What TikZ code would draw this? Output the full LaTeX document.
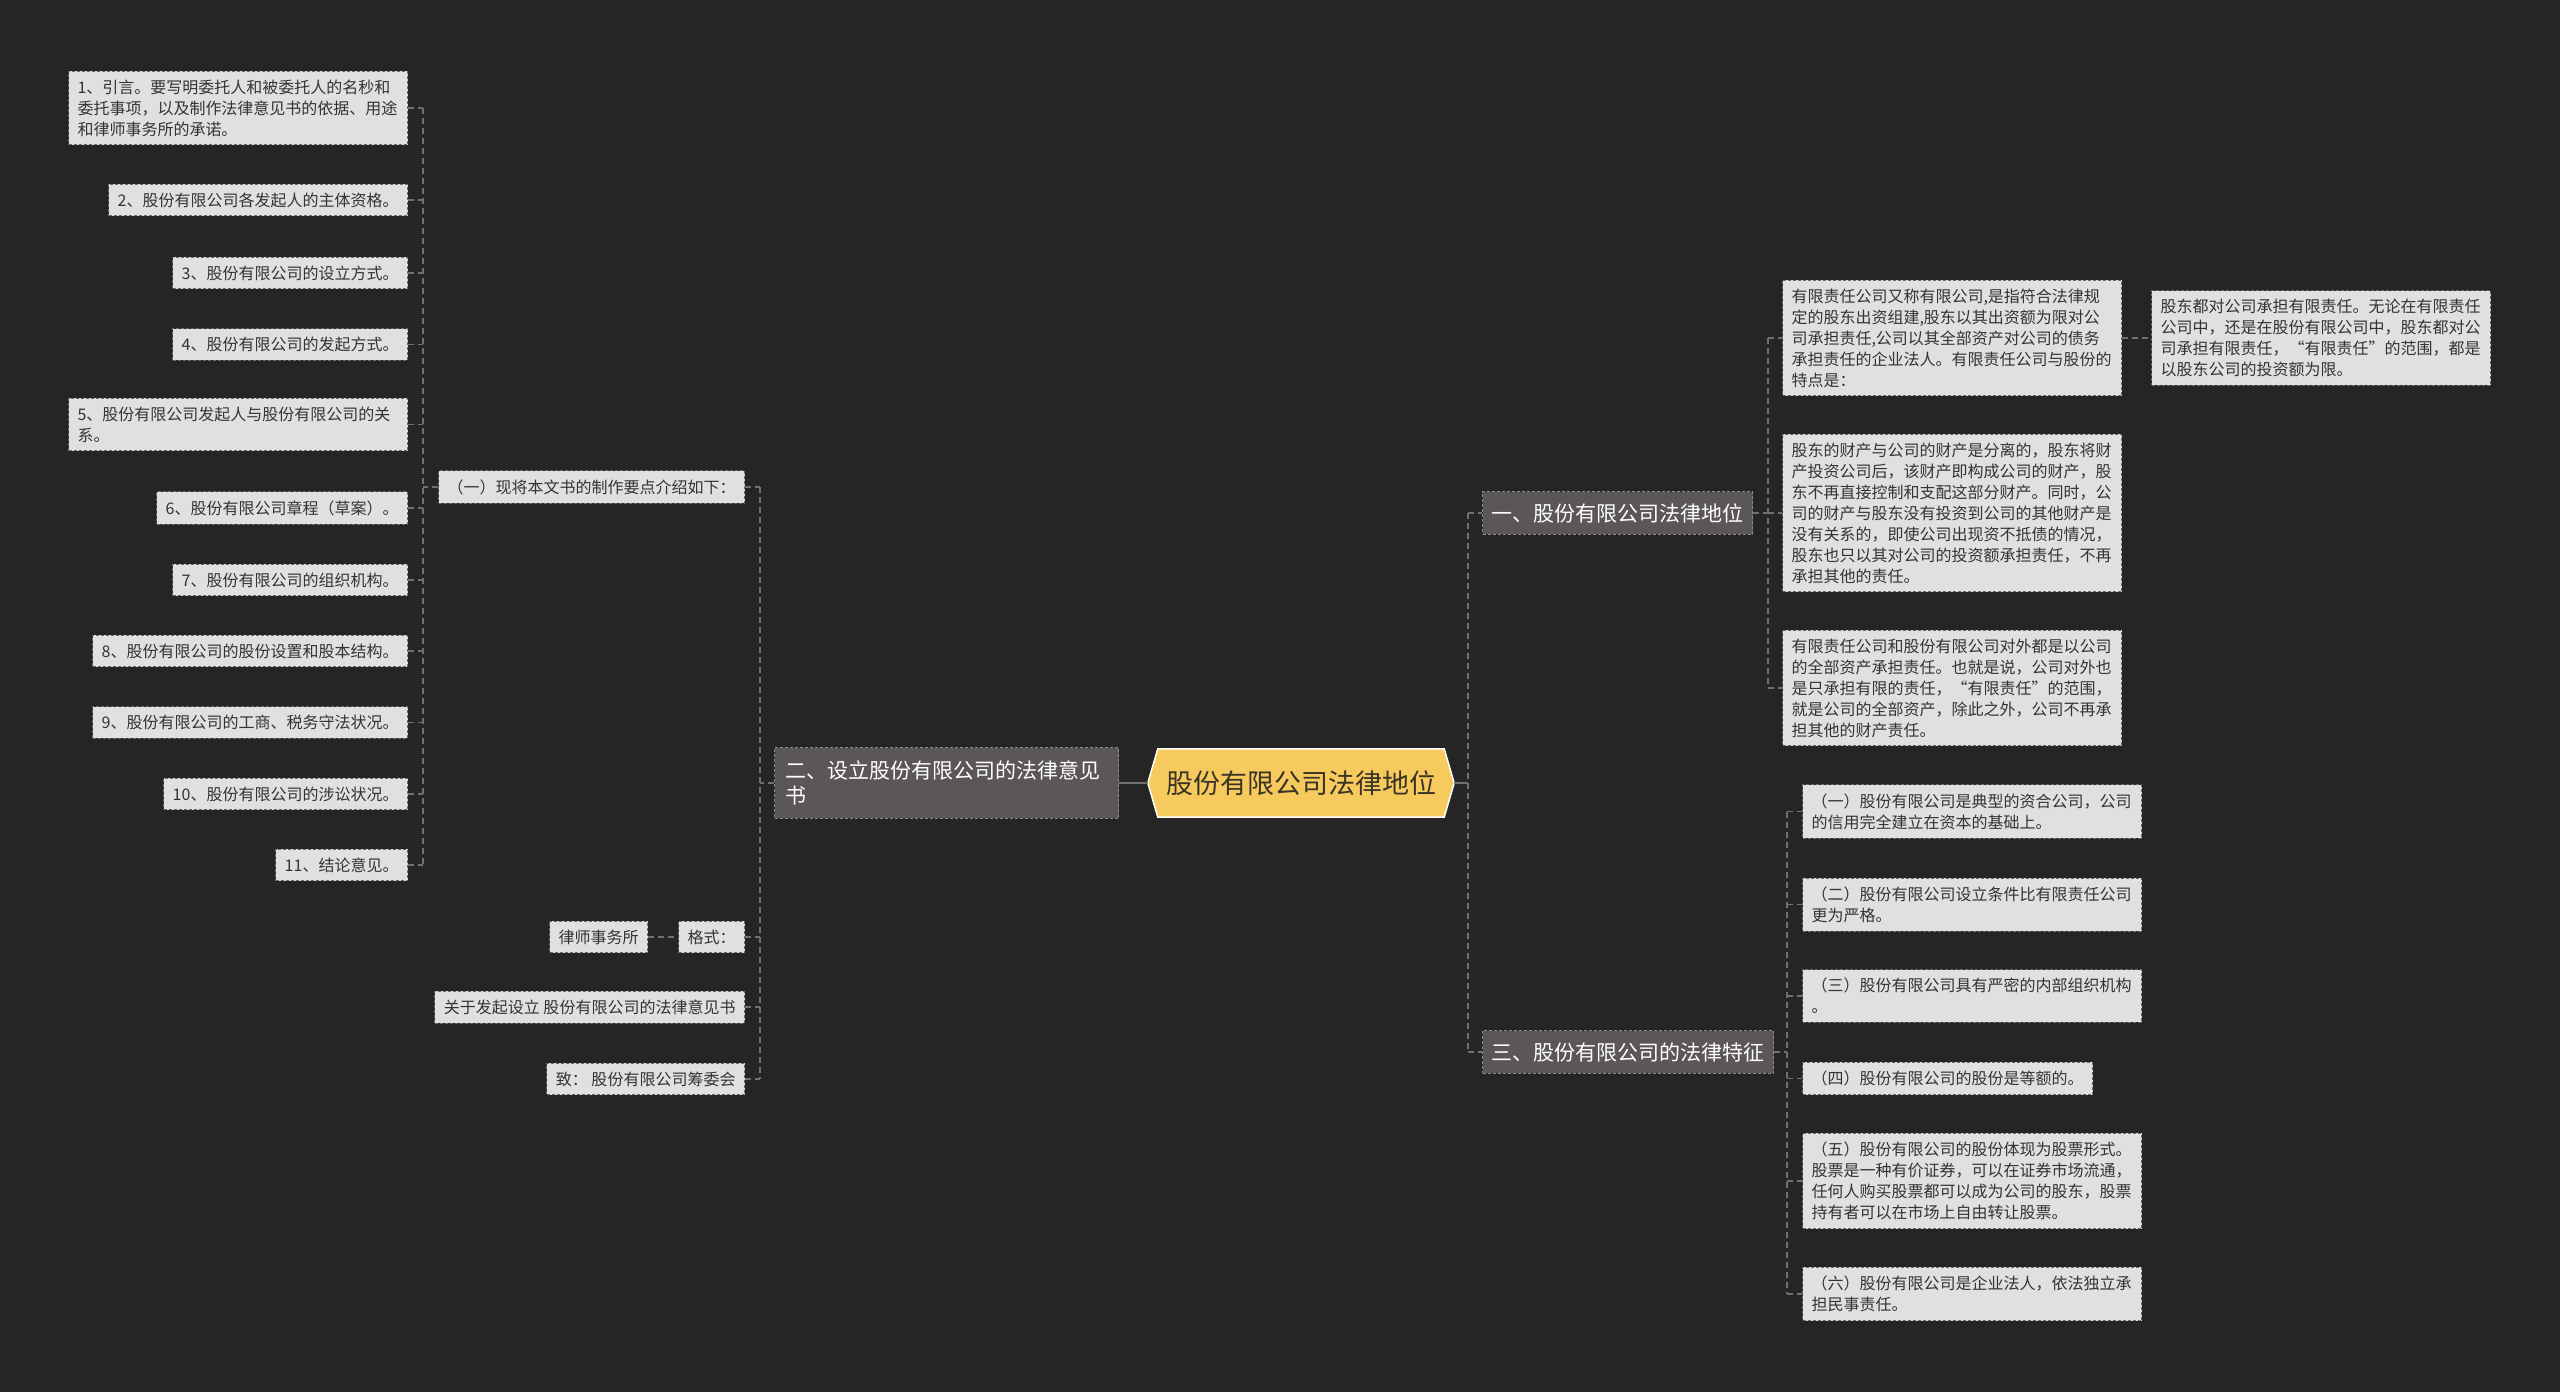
\documentclass[tikz,border=0pt]{standalone}
\usepackage{fontspec}
\setmainfont{Noto Sans CJK SC}
\usetikzlibrary{calc,backgrounds}
\definecolor{bg}{HTML}{252525}
\definecolor{leaf}{HTML}{E0E0E0}
\definecolor{leafedge}{HTML}{6A6A6A}
\definecolor{leaftext}{HTML}{333333}
\definecolor{mainfill}{HTML}{5B5756}
\definecolor{mainedge}{HTML}{8C8886}
\definecolor{rootfill}{HTML}{F6CA5D}
\definecolor{roottext}{HTML}{3A3326}
\definecolor{conn}{HTML}{707070}
\tikzset{
  leafbox/.style={fill=leaf, draw=leafedge, dash pattern=on 3pt off 2pt, line width=1pt,
    inner xsep=9pt, inner ysep=8.5pt, font=\fontsize{16}{21}\selectfont, text=leaftext, align=left},
  leafwide/.style={leafbox, text width=321pt},
  mainbox/.style={fill=mainfill, draw=mainedge, dash pattern=on 3pt off 2pt, line width=1pt,
    inner xsep=9pt, inner ysep=11.5pt, font=\fontsize{21}{25}\selectfont, text=white, align=left},
  link/.style={draw=conn, line width=1.5pt, dash pattern=on 6pt off 4pt},
  solidlink/.style={draw=conn, line width=2.5pt},
}
\begin{document}
\begin{tikzpicture}[x=1pt,y=-1pt]
\begin{scope}[on background layer]
\fill[bg] (0,0) rectangle (2560,1392);
\end{scope}
\useasboundingbox (0,0) rectangle (2560,1392);

% root
\node[font=\fontsize{27}{32}\selectfont, text=roottext, minimum width=306pt, minimum height=68pt, inner sep=0pt] (root) at (1301,783) {股份有限公司法律地位};
\begin{scope}[on background layer]
\fill[rootfill, draw=white, line width=1.5pt] ($(root.north west)+(10,0)$) -- ($(root.north east)+(-10,0)$) -- (root.east) -- ($(root.south east)+(-10,0)$) -- ($(root.south west)+(10,0)$) -- (root.west) -- cycle;
\end{scope}

% main nodes
\node[mainbox, anchor=west, text width=322pt, inner xsep=11pt, inner ysep=13pt] (m2) at (774,783) {二、设立股份有限公司的法律意见\\书};
\node[mainbox, anchor=west] (m1) at (1482,513) {一、股份有限公司法律地位};
\node[mainbox, anchor=west] (m3) at (1482,1052) {三、股份有限公司的法律特征};

% left branch
\node[leafbox, anchor=west] (k1) at (438,487) {（一）现将本文书的制作要点介绍如下：};
\node[leafbox, anchor=east] (k2) at (745,937) {格式：};
\node[leafbox, anchor=east] (k2a) at (648,937) {律师事务所};
\node[leafbox, anchor=east] (k3) at (745,1007) {关于发起设立 股份有限公司的法律意见书};
\node[leafbox, anchor=east] (k4) at (745,1079) {致： 股份有限公司筹委会};

\node[leafwide, anchor=east] (l1) at (408,108) {1、引言。要写明委托人和被委托人的名秒和\\委托事项，以及制作法律意见书的依据、用途\\和律师事务所的承诺。};
\node[leafbox, anchor=east] (l2) at (408,200) {2、股份有限公司各发起人的主体资格。};
\node[leafbox, anchor=east] (l3) at (408,273) {3、股份有限公司的设立方式。};
\node[leafbox, anchor=east] (l4) at (408,344.5) {4、股份有限公司的发起方式。};
\node[leafwide, anchor=east] (l5) at (408,424.5) {5、股份有限公司发起人与股份有限公司的关\\系。};
\node[leafbox, anchor=east] (l6) at (408,508) {6、股份有限公司章程（草案）。};
\node[leafbox, anchor=east] (l7) at (408,580) {7、股份有限公司的组织机构。};
\node[leafbox, anchor=east] (l8) at (408,651) {8、股份有限公司的股份设置和股本结构。};
\node[leafbox, anchor=east] (l9) at (408,722.5) {9、股份有限公司的工商、税务守法状况。};
\node[leafbox, anchor=east] (l10) at (408,794) {10、股份有限公司的涉讼状况。};
\node[leafbox, anchor=east] (l11) at (408,865) {11、结论意见。};

% right branch 1
\node[leafwide, anchor=west] (a1) at (1782,338) {有限责任公司又称有限公司,是指符合法律规\\定的股东出资组建,股东以其出资额为限对公\\司承担责任,公司以其全部资产对公司的债务\\承担责任的企业法人。有限责任公司与股份的\\特点是：};
\node[leafwide, anchor=west] (a1d) at (2151,338) {股东都对公司承担有限责任。无论在有限责任\\公司中，还是在股份有限公司中，股东都对公\\司承担有限责任，“有限责任”的范围，都是\\以股东公司的投资额为限。};
\node[leafwide, anchor=west] (a2) at (1782,513) {股东的财产与公司的财产是分离的，股东将财\\产投资公司后，该财产即构成公司的财产，股\\东不再直接控制和支配这部分财产。同时，公\\司的财产与股东没有投资到公司的其他财产是\\没有关系的，即使公司出现资不抵债的情况，\\股东也只以其对公司的投资额承担责任，不再\\承担其他的责任。};
\node[leafwide, anchor=west] (a3) at (1782,688) {有限责任公司和股份有限公司对外都是以公司\\的全部资产承担责任。也就是说，公司对外也\\是只承担有限的责任，“有限责任”的范围，\\就是公司的全部资产，除此之外，公司不再承\\担其他的财产责任。};

% right branch 3
\node[leafwide, anchor=west] (b1) at (1802,811.5) {（一）股份有限公司是典型的资合公司，公司\\的信用完全建立在资本的基础上。};
\node[leafwide, anchor=west] (b2) at (1802,904.5) {（二）股份有限公司设立条件比有限责任公司\\更为严格。};
\node[leafwide, anchor=west] (b3) at (1802,996) {（三）股份有限公司具有严密的内部组织机构\\。};
\node[leafbox, anchor=west] (b4) at (1802,1078.5) {（四）股份有限公司的股份是等额的。};
\node[leafwide, anchor=west] (b5) at (1802,1181) {（五）股份有限公司的股份体现为股票形式。\\股票是一种有价证券，可以在证券市场流通，\\任何人购买股票都可以成为公司的股东，股票\\持有者可以在市场上自由转让股票。};
\node[leafwide, anchor=west] (b6) at (1802,1294) {（六）股份有限公司是企业法人，依法独立承\\担民事责任。};

% junction coordinates
\coordinate (vl) at (423,487);
\coordinate (v2) at (760,783);
\coordinate (jR) at (1468,783);
\coordinate (v1) at (1768,513);
\coordinate (v3) at (1787,1052);

% connectors
\begin{scope}[on background layer]
\draw[solidlink] (m2.east) -- (root.west);
\draw[solidlink] (root.east) -- (jR);
\end{scope}
\draw[link] (m1.west -| jR) -- (m3.west -| jR);
\draw[link] (m1.west -| jR) -- (m1.west);
\draw[link] (m3.west -| jR) -- (m3.west);

\draw[link] (m2.west) -- (v2);
\draw[link] (k1.east -| v2) -- (k4.east -| v2);
\foreach \n in {k1,k2,k3,k4} \draw[link] (\n.east) -- (\n.east -| v2);
\draw[link] (k2a.east) -- (k2.west);

\draw[link] (k1.west) -- (k1.west -| vl);
\draw[link] (l1.east -| vl) -- (l11.east -| vl);
\foreach \n in {l1,l2,l3,l4,l5,l6,l7,l8,l9,l10,l11} \draw[link] (\n.east) -- (\n.east -| vl);

\draw[link] (m1.east) -- (v1);
\draw[link] (a1.west -| v1) -- (a3.west -| v1);
\foreach \n in {a1,a2,a3} \draw[link] (\n.west -| v1) -- (\n.west);
\draw[link] (a1.east) -- (a1d.west);

\draw[link] (m3.east) -- (v3);
\draw[link] (b1.west -| v3) -- (b6.west -| v3);
\foreach \n in {b1,b2,b3,b4,b5,b6} \draw[link] (\n.west -| v3) -- (\n.west);
\end{tikzpicture}
\end{document}
